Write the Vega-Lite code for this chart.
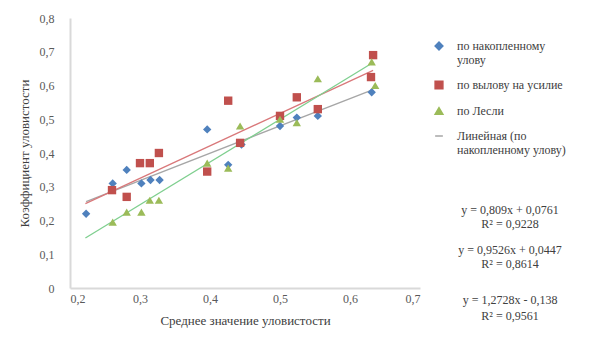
{
  "$schema": "https://vega.github.io/schema/vega-lite/v6.json",
  "width": 350,
  "height": 270,
  "autosize": {"type": "none"},
  "padding": {"left": 70, "top": 18, "right": 192, "bottom": 57},
  "background": "white",
  "config": {
    "view": {"stroke": null},
    "font": "Liberation Serif",
    "axis": {"grid": false, "ticks": false, "domainColor": "#d9d9d9", "domainWidth": 2, "labelColor": "#595959", "labelFontSize": 12, "titleColor": "#404040", "titleFontSize": 13, "titleFontWeight": "normal", "labelOverlap": false},
    "legend": {"labelFontSize": 12, "labelColor": "#404040"}
  },
  "encoding": {
    "x": {"field": "x", "type": "quantitative",
      "scale": {"domain": [0.2, 0.7], "nice": false, "zero": false},
      "axis": {"values": [0.2, 0.3, 0.4, 0.5, 0.6, 0.7], "labelExpr": "replace(format(datum.value, '.1f'), '.', ',')", "labelPadding": 5, "labelFont": "Liberation Serif", "titleFont": "Liberation Serif", "labelOverlap": false, "title": "Среднее значение уловистости", "titlePadding": 10,
        "encode": {"labels": {"update": {"font": {"value": "Liberation Serif"}}}, "title": {"update": {"font": {"value": "Liberation Serif"}}}}}},
    "y": {"field": "y", "type": "quantitative",
      "scale": {"domain": [0, 0.8], "nice": false},
      "axis": {"values": [0, 0.1, 0.2, 0.3, 0.4, 0.5, 0.6, 0.7, 0.8], "labelExpr": "datum.value == 0 ? '0' : replace(format(datum.value, '.1f'), '.', ',')", "labelPadding": 16, "labelFont": "Liberation Serif", "titleFont": "Liberation Serif", "labelOverlap": false, "title": "Коэффициент уловистости", "titlePadding": 8,
        "encode": {"labels": {"update": {"font": {"value": "Liberation Serif"}}}, "title": {"update": {"font": {"value": "Liberation Serif"}}}}}}
  },
  "layer": [
    {
      "data": {"values": [
        {"s": "Линейная (по накопленному улову)", "x": 0.223, "y": 0.256},
        {"s": "Линейная (по накопленному улову)", "x": 0.633, "y": 0.588},
        {"s": "fit2", "x": 0.222, "y": 0.25},
        {"s": "fit2", "x": 0.633, "y": 0.645},
        {"s": "fit3", "x": 0.222, "y": 0.148},
        {"s": "fit3", "x": 0.633, "y": 0.668}
      ]},
      "mark": {"type": "line", "strokeWidth": 1.3},
      "encoding": {
        "color": {"field": "s", "type": "nominal"},
        "detail": {"field": "s"}
      }
    },
    {
      "data": {"values": [
        {"s": "по накопленному улову", "x": 0.223, "y": 0.22},
        {"s": "по накопленному улову", "x": 0.261, "y": 0.31},
        {"s": "по накопленному улову", "x": 0.281, "y": 0.35},
        {"s": "по накопленному улову", "x": 0.302, "y": 0.31},
        {"s": "по накопленному улову", "x": 0.315, "y": 0.32},
        {"s": "по накопленному улову", "x": 0.328, "y": 0.32},
        {"s": "по накопленному улову", "x": 0.396, "y": 0.47},
        {"s": "по накопленному улову", "x": 0.426, "y": 0.365},
        {"s": "по накопленному улову", "x": 0.445, "y": 0.425},
        {"s": "по накопленному улову", "x": 0.5, "y": 0.48},
        {"s": "по накопленному улову", "x": 0.524, "y": 0.505},
        {"s": "по накопленному улову", "x": 0.554, "y": 0.51},
        {"s": "по накопленному улову", "x": 0.631, "y": 0.58},
        {"s": "по вылову на усилие", "x": 0.26, "y": 0.29},
        {"s": "по вылову на усилие", "x": 0.281, "y": 0.27},
        {"s": "по вылову на усилие", "x": 0.3, "y": 0.37},
        {"s": "по вылову на усилие", "x": 0.314, "y": 0.37},
        {"s": "по вылову на усилие", "x": 0.327, "y": 0.4},
        {"s": "по вылову на усилие", "x": 0.396, "y": 0.345},
        {"s": "по вылову на усилие", "x": 0.426, "y": 0.555},
        {"s": "по вылову на усилие", "x": 0.443, "y": 0.43},
        {"s": "по вылову на усилие", "x": 0.5, "y": 0.51},
        {"s": "по вылову на усилие", "x": 0.524, "y": 0.565},
        {"s": "по вылову на усилие", "x": 0.554, "y": 0.53},
        {"s": "по вылову на усилие", "x": 0.63, "y": 0.625},
        {"s": "по вылову на усилие", "x": 0.633, "y": 0.69},
        {"s": "по Лесли", "x": 0.261, "y": 0.195},
        {"s": "по Лесли", "x": 0.281, "y": 0.225},
        {"s": "по Лесли", "x": 0.302, "y": 0.225},
        {"s": "по Лесли", "x": 0.314, "y": 0.26},
        {"s": "по Лесли", "x": 0.327, "y": 0.26},
        {"s": "по Лесли", "x": 0.396, "y": 0.37},
        {"s": "по Лесли", "x": 0.426, "y": 0.355},
        {"s": "по Лесли", "x": 0.443, "y": 0.48},
        {"s": "по Лесли", "x": 0.5, "y": 0.5},
        {"s": "по Лесли", "x": 0.524, "y": 0.49},
        {"s": "по Лесли", "x": 0.554, "y": 0.62},
        {"s": "по Лесли", "x": 0.631, "y": 0.67},
        {"s": "по Лесли", "x": 0.636, "y": 0.6}
      ]},
      "mark": {"type": "point", "filled": true, "opacity": 1, "size": 70},
      "encoding": {
        "color": {"field": "s", "type": "nominal",
          "scale": {
            "domain": ["по накопленному улову", "по вылову на усилие", "по Лесли", "Линейная (по накопленному улову)", "fit2", "fit3"],
            "range": ["#4f81bd", "#c0504d", "#9bbb59", "#a6a6a6", "#d9787a", "#7fcf8f"]
          },
          "legend": {
            "title": null, "orient": "none", "legendX": 363, "legendY": 22,
            "values": ["по накопленному улову", "по вылову на усилие", "по Лесли", "Линейная (по накопленному улову)"],
            "labelExpr": "datum.label == 'по накопленному улову' ? ['по накопленному', 'улову'] : datum.label == 'Линейная (по накопленному улову)' ? ['Линейная (по', 'накопленному улову)'] : datum.label",
            "labelFont": "Liberation Serif",
            "encode": {"labels": {"update": {"font": {"value": "Liberation Serif"}}}},
            "rowPadding": 12, "symbolSize": 60, "labelOffset": 12, "labelLimit": 200
          }},
        "shape": {"field": "s", "type": "nominal",
          "scale": {
            "domain": ["по накопленному улову", "по вылову на усилие", "по Лесли", "Линейная (по накопленному улову)", "fit2", "fit3"],
            "range": ["diamond", "square", "triangle-up", "stroke", "stroke", "stroke"]
          },
          "legend": null}
      }
    },
    {
      "data": {"values": [
        {"t": "y = 0,809x + 0,0761", "x": 0.8286, "y": 0.231},
        {"t": "R² = 0,9228", "x": 0.8286, "y": 0.19},
        {"t": "y = 0,9526x + 0,0447", "x": 0.8286, "y": 0.113},
        {"t": "R² = 0,8614", "x": 0.8286, "y": 0.071},
        {"t": "y = 1,2728x - 0,138", "x": 0.8286, "y": -0.036},
        {"t": "R² = 0,9561", "x": 0.8286, "y": -0.083}
      ]},
      "mark": {"type": "text", "font": "Liberation Serif", "fontSize": 12, "color": "#404040", "align": "center", "baseline": "middle", "clip": false},
      "encoding": {
        "text": {"field": "t"}
      }
    }
  ]
}
